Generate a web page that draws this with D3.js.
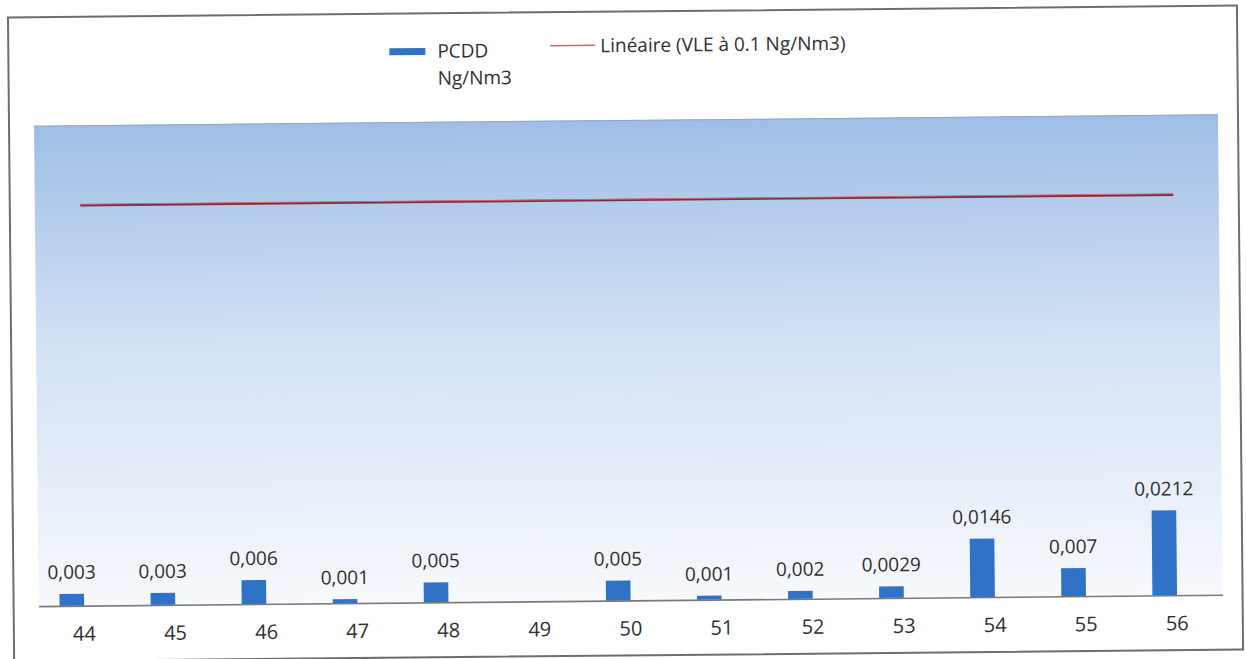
<!DOCTYPE html>
<html>
<head>
<meta charset="utf-8">
<script src="https://cdn.jsdelivr.net/npm/d3@7"></script>
<style>
  html, body { margin: 0; padding: 0; background: #ffffff; }
  svg { display: block; }
  text { font-family: "Open Sans", "Noto Sans", sans-serif; fill: #2f2f2f; }
</style>
</head>
<body>
<svg id="chart" width="1246" height="659"></svg>
<script>
// ---- data ----
const categories = ["44","45","46","47","48","49","50","51","52","53","54","55","56"];
const pcddValues = [0.003, 0.003, 0.006, 0.001, 0.005, null, 0.005, 0.001, 0.002, 0.0029, 0.0146, 0.007, 0.0212];
const vleValues  = [0.1, 0.1, 0.1, 0.1, 0.1, 0.1, 0.1, 0.1, 0.1, 0.1, 0.1, 0.1, 0.1];
const seriesNames = ["PCDD Ng/Nm3", "VLE à 0.1 Ng/Nm3"];
const yDomain = [0, 0.12];

// ---- layout ----
const plot = { left: 36, right: 1220, top: 120, bottom: 600.5 };

const svg = d3.select("#chart");
const root = svg.append("g").attr("transform", "rotate(-0.55, 623, 330)");

// frame
root.append("rect")
  .attr("x", 11).attr("y", 11.5).attr("width", 1229).attr("height", 644)
  .attr("fill", "#ffffff").attr("stroke", "#6e6e6e").attr("stroke-width", 2);

const x = d3.scaleBand().domain(categories).range([plot.left, plot.right]).paddingInner(0).paddingOuter(0);
const x1 = d3.scaleBand().domain(seriesNames).range([0, x.bandwidth()]).paddingInner(0).paddingOuter(0.85);
const y = d3.scaleLinear().domain(yDomain).range([plot.bottom, plot.top]);

// gradient background
const defs = svg.append("defs");
const grad = defs.append("linearGradient").attr("id", "bg").attr("x1", 0).attr("y1", 0).attr("x2", 0).attr("y2", 1);
grad.append("stop").attr("offset", "0%").attr("stop-color", "#9fbee6");
grad.append("stop").attr("offset", "45%").attr("stop-color", "#d2e1f4");
grad.append("stop").attr("offset", "100%").attr("stop-color", "#f7f9fd");

root.append("rect")
  .attr("x", plot.left).attr("y", plot.top)
  .attr("width", plot.right - plot.left).attr("height", plot.bottom - plot.top)
  .attr("fill", "url(#bg)");
root.append("line")
  .attr("x1", plot.left).attr("x2", plot.right)
  .attr("y1", plot.top + 0.5).attr("y2", plot.top + 0.5)
  .attr("stroke", "#8fa9cc").attr("stroke-width", 1);

// bars
const fmt = d3.formatLocale({ decimal: ",", thousands: " ", grouping: [3], currency: ["", " €"] }).format("");
const barData = categories.map((c, i) => ({ c, v: pcddValues[i] })).filter(d => d.v != null);

root.append("g").selectAll("rect").data(barData).join("rect")
  .attr("x", d => x(d.c) + x1(seriesNames[0]))
  .attr("width", x1.bandwidth())
  .attr("y", d => y(d.v))
  .attr("height", d => y(0) - y(d.v))
  .attr("fill", "#2f72c6");

root.append("g").selectAll("text").data(barData).join("text")
  .attr("x", d => x(d.c) + x1(seriesNames[0]) + x1.bandwidth() / 2)
  .attr("y", d => y(d.v) - 15)
  .attr("text-anchor", "middle")
  .attr("font-size", 19)
  .text(d => fmt(d.v));

// linear trendline of VLE series
const vlePts = categories.map((c, i) => [x(c) + x.bandwidth() / 2, y(vleValues[i])]);
const n = vlePts.length;
const mx = d3.mean(vlePts, p => p[0]), my = d3.mean(vlePts, p => p[1]);
const sxx = d3.sum(vlePts, p => (p[0] - mx) ** 2);
const slope = sxx ? d3.sum(vlePts, p => (p[0] - mx) * (p[1] - my)) / sxx : 0;
const trend = [vlePts[0][0], vlePts[n - 1][0]].map(px => [px, my + slope * (px - mx)]);
root.append("path")
  .attr("d", d3.line()(trend))
  .attr("fill", "none").attr("stroke", "#7a2f45").attr("stroke-width", 2.2);
root.append("path")
  .attr("d", d3.line()(trend.map(p => [p[0], p[1] - 1])))
  .attr("fill", "none").attr("stroke", "#d2646f").attr("stroke-width", 1);

// x axis
const xAxis = d3.axisBottom(x).tickSize(0).tickPadding(0);
const ax = root.append("g").attr("transform", `translate(0,${plot.bottom})`).call(xAxis);
ax.select(".domain").attr("stroke", "#7a7a7a").attr("stroke-width", 1.6);
ax.selectAll(".tick text")
  .attr("y", 35).attr("dy", 0)
  .attr("font-size", 20)
  .attr("font-family", "\"Open Sans\", sans-serif")
  .attr("fill", "#2f2f2f");

// legend
const lg = root.append("g");
lg.append("rect").attr("x", 392).attr("y", 46).attr("width", 36).attr("height", 7).attr("fill", "#2f72c6");
lg.append("text").attr("x", 440).attr("y", 56).attr("font-size", 19).text("PCDD");
lg.append("text").attr("x", 440).attr("y", 83).attr("font-size", 19).text("Ng/Nm3");
lg.append("line").attr("x1", 553).attr("x2", 598).attr("y1", 45).attr("y2", 45)
  .attr("stroke", "#d2646f").attr("stroke-width", 1.6);
lg.append("text").attr("x", 603).attr("y", 52).attr("font-size", 19).text("Linéaire (VLE à 0.1 Ng/Nm3)");
</script>
</body>
</html>
